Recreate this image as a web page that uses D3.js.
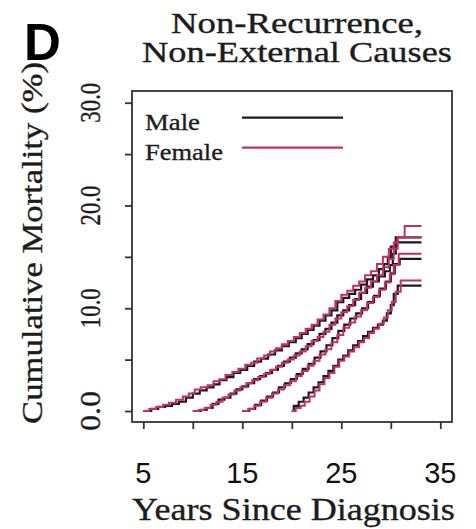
<!DOCTYPE html>
<html>
<head>
<meta charset="utf-8">
<script src="https://cdn.jsdelivr.net/npm/d3@7"></script>
<style>
  html, body { margin: 0; padding: 0; background: #fff; }
  svg { display: block; }
</style>
</head>
<body>
<div id="chart"></div>
<script>
// Cumulative mortality (%) from non-recurrence, non-external causes,
// conditional on surviving 5, 10, 15 and 20 years after diagnosis.
// Each series is a list of [years since diagnosis, cumulative mortality %].
const male5 = [[5,0],[5.8,0.2],[6.5,0.4],[7.2,0.5],[7.9,0.7],[8.6,0.9],[9.3,1.3],[10,1.7],[10.7,2.0],[11.4,2.3],[12.1,2.6],[12.7,3.0],[13.4,3.3],[14.1,3.7],[14.8,4.0],[15.5,4.4],[16.2,4.8],[16.9,5.1],[17.6,5.5],[18.3,5.9],[19,6.3],[19.7,6.7],[20.4,7.1],[21,7.5],[21.6,7.9],[22.2,8.3],[22.8,8.8],[23.4,9.3],[24,9.8],[24.6,10.6],[25.2,11.0],[25.8,11.4],[26.4,11.8],[27,12.3],[27.6,12.8],[28.2,13.2],[28.8,13.8],[29.3,14.3],[29.7,15.0],[30.0,16.0],[30.5,16.9],[33.1,16.9]];
const female5 = [[5,0],[5.6,0.2],[6.3,0.4],[7,0.6],[7.6,0.8],[8.3,1.1],[9,1.4],[9.6,1.7],[10.2,2.1],[10.8,2.3],[11.5,2.5],[12.1,2.9],[12.7,3.1],[13.3,3.5],[14,3.8],[14.6,4.1],[15.3,4.5],[15.9,4.7],[16.5,5.1],[17.2,5.4],[17.8,5.8],[18.4,6.1],[19,6.5],[19.6,6.8],[20.2,7.2],[20.8,7.6],[21.4,8.0],[22,8.4],[22.6,8.9],[23.2,9.4],[23.8,10.0],[24.4,10.7],[25,11.3],[25.6,11.7],[26.2,12.2],[26.8,12.6],[27.4,13.2],[28,13.6],[28.6,14.3],[29.2,15.0],[29.8,15.8],[30.3,16.4],[30.7,16.9],[31.4,18.0],[33.1,18.0]];
const male10 = [[10,0],[10.8,0.1],[11.4,0.3],[12,0.7],[12.6,1.1],[13.2,1.3],[13.8,1.7],[14.4,2.1],[15,2.4],[15.6,2.7],[16.2,3.1],[16.8,3.4],[17.4,3.7],[18,4.0],[18.6,4.4],[19.2,4.8],[19.8,5.2],[20.4,5.6],[21,6.0],[21.6,6.5],[22.2,6.9],[22.8,7.5],[23.4,8.0],[24,8.6],[24.6,9.3],[25.2,9.8],[25.8,10.3],[26.4,10.9],[27,11.5],[27.6,12.1],[28.2,12.6],[28.8,13.1],[29.4,13.6],[29.9,14.2],[30.2,15.3],[30.5,16.4],[33.1,16.4]];
const female10 = [[10,0],[10.6,0.1],[11.2,0.3],[11.8,0.6],[12.4,0.9],[13,1.3],[13.6,1.6],[14.2,2.0],[14.8,2.3],[15.4,2.7],[16,3.0],[16.6,3.3],[17.2,3.6],[17.8,4.0],[18.4,4.3],[19,4.7],[19.6,5.0],[20.2,5.4],[20.8,5.8],[21.4,6.3],[22,6.8],[22.6,7.2],[23.2,7.7],[23.8,8.4],[24.4,9.0],[25,9.6],[25.6,10.2],[26.2,10.8],[26.8,11.5],[27.4,12.0],[28,12.6],[28.6,13.2],[29.2,14.0],[29.8,14.8],[30.3,15.8],[30.7,16.9],[33.1,16.9]];
const male15 = [[15,0],[15.7,0.2],[16.3,0.6],[16.9,1.0],[17.5,1.4],[18.1,1.8],[18.7,2.3],[19.3,2.7],[19.9,3.1],[20.5,3.6],[21.1,4.1],[21.7,4.6],[22.3,5.2],[22.9,5.8],[23.5,6.4],[24.1,7.1],[24.7,7.8],[25.3,8.4],[25.9,9.0],[26.5,9.5],[27.1,10.0],[27.7,10.6],[28.3,11.2],[28.9,11.9],[29.5,12.6],[30,13.4],[30.4,14.3],[30.9,14.8],[33.1,14.8]];
const female15 = [[15,0],[15.6,0.2],[16.2,0.5],[16.8,0.9],[17.4,1.3],[18,1.7],[18.6,2.1],[19.2,2.5],[19.8,2.9],[20.4,3.4],[21,3.9],[21.6,4.4],[22.2,4.9],[22.8,5.5],[23.4,6.0],[24,6.7],[24.6,7.4],[25.2,8.1],[25.8,8.6],[26.4,9.2],[27,9.8],[27.6,10.5],[28.2,11.1],[28.8,11.8],[29.4,12.5],[29.9,13.3],[30.3,14.2],[30.8,15.3],[33.1,15.3]];
const male20 = [[20,0],[20.2,0.5],[20.7,0.9],[21.2,1.3],[21.7,1.8],[22.2,2.3],[22.7,2.8],[23.2,3.4],[23.7,3.9],[24.2,4.4],[24.7,5.0],[25.2,5.4],[25.7,5.9],[26.2,6.4],[26.7,6.8],[27.2,7.3],[27.7,7.7],[28.2,8.1],[28.7,8.4],[29.2,8.8],[29.6,9.5],[30,10.3],[30.3,11.4],[30.7,12.2],[33.1,12.2]];
const female20 = [[20,0],[20.4,0.3],[20.9,0.5],[21.3,0.9],[21.8,1.4],[22.3,2.0],[22.8,2.6],[23.3,3.2],[23.8,3.7],[24.3,4.3],[24.8,4.9],[25.3,5.3],[25.8,5.8],[26.3,6.2],[26.8,6.7],[27.3,7.1],[27.8,7.6],[28.3,8.0],[28.8,8.5],[29.3,9.1],[29.7,9.8],[30.1,10.6],[30.5,11.6],[31,12.7],[33.1,12.7]];

const maleSeries = [male5, male10, male15, male20];
const femaleSeries = [female5, female10, female15, female20];

const xTicks = [5, 10, 15, 20, 25, 30, 35];
const xTickLabels = ["5", "", "15", "", "25", "", "35"];
const yTicks = [0, 5, 10, 15, 20, 25, 30];
const yTickLabels = ["0.0", "", "10.0", "", "20.0", "", "30.0"];
const legendLabels = ["Male", "Female"];
const titleLines = ["Non-Recurrence,", "Non-External Causes"];

const W = 476, H = 529;
const MALE = "#1a1a1a", FEMALE = "#c2306c";
const INK = "#1c1c1c";
const SERIF = "'Liberation Serif', 'Times New Roman', serif";
const SANS = "'Liberation Sans', Arial, sans-serif";

const svg = d3.select("#chart").append("svg").attr("width", W).attr("height", H);

const box = { left: 132, right: 452, top: 91, bottom: 422 };
const x = d3.scaleLinear().domain([5, 35]).range([143.3, 440.3]);
const y = d3.scaleLinear().domain([0, 30]).range([411, 102.7]);

// Serif label stretched horizontally (along its own baseline) to a given width.
function wideText(parent, str, cx, cy, size, width, angle, anchor) {
  const t = parent.append("text")
    .attr("font-family", SERIF).attr("font-size", size)
    .attr("text-anchor", anchor || "middle")
    .attr("fill", INK).attr("stroke", INK).attr("stroke-width", 0.35)
    .text(str);
  const natural = t.node().getComputedTextLength();
  const sx = width / natural;
  t.attr("transform", `translate(${cx},${cy}) rotate(${angle || 0}) scale(${sx},1)`);
  return t;
}

// panel letter
svg.append("text").attr("x", 24).attr("y", 60)
  .attr("font-family", SANS).attr("font-weight", "bold").attr("font-size", 51)
  .attr("fill", "#000").text("D");

// title
const titleW = [252, 310];
titleLines.forEach((t, i) => wideText(svg, t, 297, 33 + i * 29, 29, titleW[i]));

// curves
const line = d3.line().x(d => x(d[0])).y(d => y(d[1])).curve(d3.curveStepAfter);
const g = svg.append("g");
maleSeries.forEach(s => g.append("path").attr("d", line(s))
  .attr("fill", "none").attr("stroke", MALE).attr("stroke-width", 2.2));
femaleSeries.forEach(s => g.append("path").attr("d", line(s))
  .attr("fill", "none").attr("stroke", FEMALE).attr("stroke-width", 2));

// frame
svg.append("rect").attr("x", box.left).attr("y", box.top)
  .attr("width", box.right - box.left).attr("height", box.bottom - box.top)
  .attr("fill", "none").attr("stroke", "#333").attr("stroke-width", 1.8);

// x axis
const xAxis = d3.axisBottom(x).tickValues(xTicks).tickSize(7).tickFormat(() => "");
const xg = svg.append("g").attr("transform", `translate(0,${box.bottom})`).call(xAxis);
xg.select(".domain").remove();
xg.selectAll("line").attr("stroke", "#333").attr("stroke-width", 1.8);
svg.append("g").selectAll("text").data(xTicks).join("text")
  .attr("x", d => x(d)).attr("y", 483).attr("text-anchor", "middle")
  .attr("font-family", SANS).attr("font-size", 29).attr("fill", "#111")
  .text((d, i) => xTickLabels[i]);

// y axis
const yAxis = d3.axisLeft(y).tickValues(yTicks).tickSize(7).tickFormat(() => "");
const yg = svg.append("g").attr("transform", `translate(${box.left},0)`).call(yAxis);
yg.select(".domain").remove();
yg.selectAll("line").attr("stroke", "#333").attr("stroke-width", 1.8);
const yLab = svg.append("g");
yTicks.forEach((d, i) => {
  if (yTickLabels[i]) wideText(yLab, yTickLabels[i], 100, y(d), 29, 40, -90);
});

// axis titles
wideText(svg, "Years Since Diagnosis", 293.5, 520, 32, 323);
wideText(svg, "Cumulative Mortality (%)", 42, 243, 30, 362, -90);

// legend
const legW = [55, 78];
const legColors = [MALE, FEMALE];
legendLabels.forEach((t, i) => {
  wideText(svg, t, 145, 130 + i * 30, 24, legW[i], 0, "start");
  svg.append("line").attr("x1", 242).attr("x2", 343)
    .attr("y1", 117.7 + i * 30).attr("y2", 117.7 + i * 30)
    .attr("stroke", legColors[i]).attr("stroke-width", 2.2);
});
</script>
</body>
</html>
